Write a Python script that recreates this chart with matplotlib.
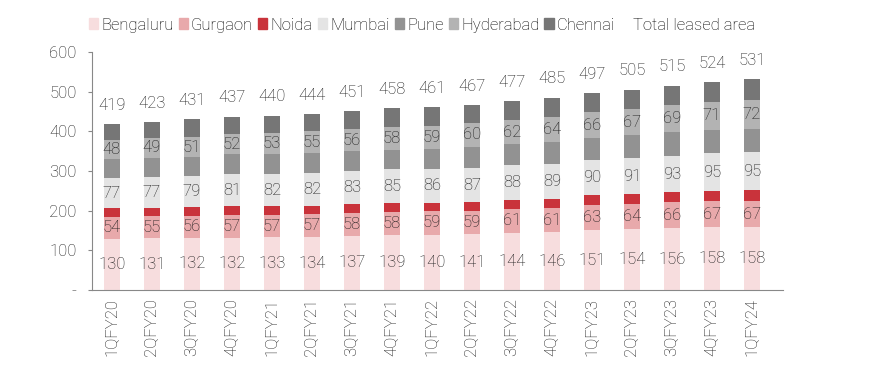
import matplotlib
matplotlib.use("Agg")
import matplotlib.pyplot as plt
import numpy as np
from matplotlib.patches import Patch

plt.rcParams["font.family"] = ["Roboto", "DejaVu Sans"]
plt.rcParams["font.weight"] = "light"

quarters = ["1QFY20", "2QFY20", "3QFY20", "4QFY20", "1QFY21", "2QFY21", "3QFY21", "4QFY21", "1QFY22",
            "2QFY22", "3QFY22", "4QFY22", "1QFY23", "2QFY23", "3QFY23", "4QFY23", "1QFY24"]

bengaluru = [130, 131, 132, 132, 133, 134, 137, 139, 140, 141, 144, 146, 151, 154, 156, 158, 158]
gurgaon = [54, 55, 56, 57, 57, 57, 58, 58, 59, 59, 61, 61, 63, 64, 66, 67, 67]
noida = [22, 22, 21, 22, 21, 21, 21, 22, 21, 21, 23, 23, 25, 24, 24, 25, 27]
mumbai = [77, 77, 79, 81, 82, 82, 83, 85, 86, 87, 88, 89, 90, 91, 93, 95, 95]
pune = [48, 49, 47, 50, 50, 51, 51, 48, 49, 53, 51, 54, 54, 57, 59, 59, 59]
hyderabad = [48, 49, 51, 52, 53, 55, 56, 58, 59, 60, 62, 64, 66, 67, 69, 71, 72]
chennai = [40, 40, 45, 43, 44, 44, 45, 48, 47, 46, 48, 48, 48, 48, 48, 49, 53]
total = [419, 423, 431, 437, 440, 444, 451, 458, 461, 467, 477, 485, 497, 505, 515, 524, 531]

series = [
    ("Bengaluru", bengaluru, "#F7DDDE", True),
    ("Gurgaon", gurgaon, "#E8A9AB", True),
    ("Noida", noida, "#C9333B", False),
    ("Mumbai", mumbai, "#E4E4E4", True),
    ("Pune", pune, "#929292", False),
    ("Hyderabad", hyderabad, "#B3B3B3", True),
    ("Chennai", chennai, "#767676", False),
]

fig = plt.figure(figsize=(8.75, 3.91), dpi=100)
ax = fig.add_axes([0.105, 0.258, 0.79, 0.609])

x = np.arange(len(quarters))
bottom = np.zeros(len(quarters))
handles = []
for name, vals, color, labelled in series:
    bars = ax.bar(x, vals, width=0.4, bottom=bottom, color=color, label=name)
    if labelled:
        ax.bar_label(bars, labels=[str(v) for v in vals], label_type="center",
                     fontsize=12, color="#1a1a1a")
    bottom += np.array(vals)
    handles.append(Patch(color=color, label=name))

for xi, t in zip(x, total):
    ax.annotate(str(t), (xi, t), xytext=(0, 13.5), textcoords="offset points",
                ha="center", va="center", fontsize=12, color="#1a1a1a")

handles.append(Patch(color="none", label="Total leased area"))
fig.legend(handles=handles, loc="center", bbox_to_anchor=(0.482, 0.936), ncol=8, frameon=False,
           fontsize=12, handlelength=0.55, handleheight=0.6, handletextpad=0.2, columnspacing=0.3)

ax.set_xlim(-0.5, 16.78)
ax.set_ylim(0, 600)
ax.set_yticks(range(0, 601, 100))
ax.set_yticklabels(["-"] + [str(v) for v in range(100, 601, 100)])
ax.set_xticks(x)
ax.set_xticklabels(quarters, rotation=90)
ax.tick_params(axis="x", length=0, labelsize=12, pad=6, labelcolor="#1a1a1a")
ax.tick_params(axis="y", length=3, color="#888888", labelsize=12, pad=8, labelcolor="#1a1a1a")
for s in ["top", "right"]:
    ax.spines[s].set_visible(False)
for s in ["left", "bottom"]:
    ax.spines[s].set_color("#888888")

fig.savefig("out.png", dpi=100)
